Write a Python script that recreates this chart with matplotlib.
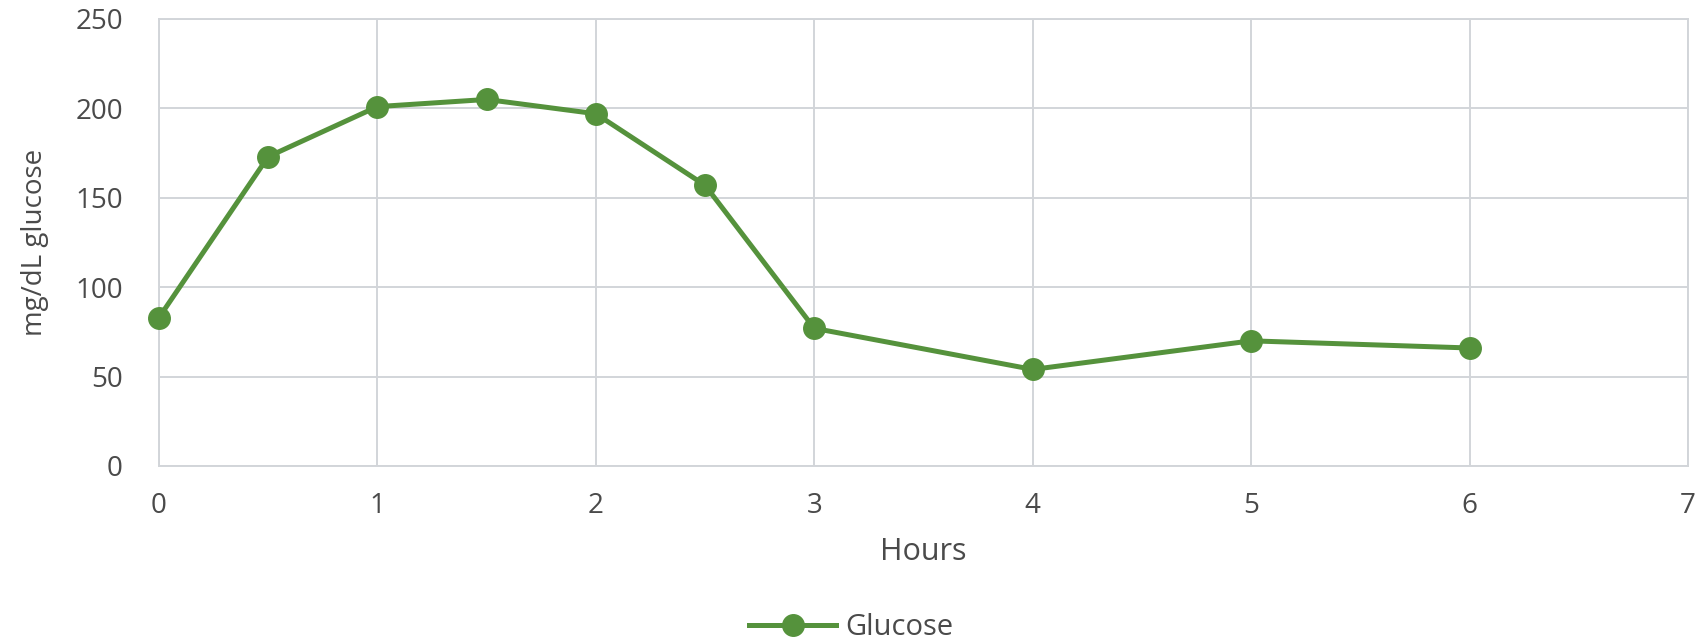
import matplotlib
matplotlib.use("Agg")
import matplotlib.pyplot as plt

hours = [0, 0.5, 1, 1.5, 2, 2.5, 3, 4, 5, 6]
glucose = [83, 173, 201, 205, 197, 157, 77, 54, 70, 66]
series_name = "Glucose"
x_label = "Hours"
y_label = "mg/dL glucose"
x_ticks = [0, 1, 2, 3, 4, 5, 6, 7]
y_ticks = [0, 50, 100, 150, 200, 250]

plt.rcParams['font.family'] = ['Open Sans', 'DejaVu Sans']
text_color = '#4a4a4a'
green = '#55923c'
grid_color = '#d2d5d9'

fig = plt.figure(figsize=(17.02, 6.44), dpi=100)
ax = fig.add_axes([0.0934, 0.2764, 0.8984, 0.6941])
ax.plot(hours, glucose, color=green, lw=3.6, marker='o', markersize=15.5,
        markerfacecolor=green, markeredgecolor=green, label=series_name,
        zorder=3, clip_on=False)
ax.set_xlim(0, 7)
ax.set_ylim(0, 250)
ax.set_xticks(x_ticks)
ax.set_yticks(y_ticks)
ax.grid(True, color=grid_color, lw=1.4)
for s in ax.spines.values():
    s.set_color(grid_color)
    s.set_linewidth(1.4)
ax.tick_params(length=0, labelsize=20, labelcolor=text_color)
ax.tick_params(axis='y', pad=26)
ax.tick_params(axis='x', pad=19)
ax.set_xlabel(x_label, fontsize=22, color=text_color, va='center')
ax.set_ylabel(y_label, fontsize=20, color=text_color, va='center')
ax.xaxis.set_label_coords(0.5, -0.193)
ax.yaxis.set_label_coords(-0.081, 0.5)
leg = fig.legend(loc='center', bbox_to_anchor=(0.5, 0.026), frameon=False, fontsize=21,
                 labelcolor=text_color, handlelength=3.0, handletextpad=0.3,
                 borderpad=0.1)
fig.savefig("out.png", dpi=100)
